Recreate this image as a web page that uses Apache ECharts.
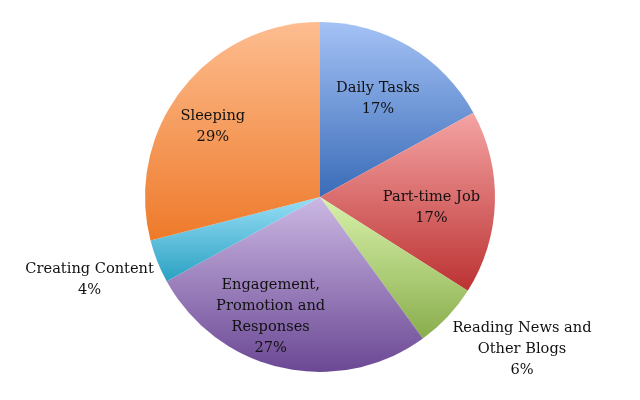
<!DOCTYPE html>
<html>
<head>
<meta charset="utf-8">
<script src="https://cdn.jsdelivr.net/npm/echarts@6/dist/echarts.min.js"></script>
<style>
html,body{margin:0;padding:0;background:#fff;}
#c{width:640px;height:400px;}
</style>
</head>
<body>
<div id="c"></div>
<script>
const categories = ['Daily Tasks', 'Part-time Job', 'Reading News and\nOther Blogs', 'Engagement,\nPromotion and\nResponses', 'Creating Content', 'Sleeping'];
const values = [17, 17, 6, 27, 4, 29];
const labelOutside = [false, false, true, false, true, false];
const colorTop = ['#a4c2f5', '#f5a4a4', '#d8f2ab', '#cbb8e3', '#98def6', '#fdbd90'];
const colorBottom = ['#3a6bb8', '#bc3232', '#89ad4c', '#6b4894', '#2aa1c2', '#ee7a2a'];

const chart = echarts.init(document.getElementById('c'), null, {renderer: 'canvas'});
const center = [320, 197];
const font = {fontFamily: 'DejaVu Serif', fontSize: 14.6, color: '#111111', lineHeight: 21, align: 'center'};
// small label nudges to follow the reference's label placement
const nudge = [[-6, 10], [-14, 7], [19, -20], [-22, -3], [3, -10], [-8, 7]];

const mainData = categories.map((n, i) => ({
  name: n, value: values[i],
  itemStyle: {color: new echarts.graphic.LinearGradient(0, 0, 0, 1, [
    {offset: 0, color: colorTop[i]}, {offset: 1, color: colorBottom[i]}])}
}));
function overlayData(showOutside) {
  return categories.map((n, i) => ({
    name: n, value: values[i],
    label: {show: labelOutside[i] === showOutside}
  }));
}
const overlayCommon = {
  type: 'pie', center: center, startAngle: 90, clockwise: true, silent: true,
  itemStyle: {color: 'rgba(0,0,0,0)', borderWidth: 0},
  emphasis: {disabled: true},
  labelLine: {show: false},
  label: Object.assign({position: 'inside', formatter: p => p.name + '\n' + p.value + '%'}, font),
  labelLayout: p => ({dx: nudge[p.dataIndex][0], dy: nudge[p.dataIndex][1]})
};
chart.setOption({
  animation: false,
  backgroundColor: '#ffffff',
  series: [
    {
      type: 'pie', center: center, radius: [0, 175], startAngle: 90, clockwise: true,
      data: mainData, label: {show: false}, labelLine: {show: false},
      itemStyle: {borderWidth: 0},
      emphasis: {disabled: true}
    },
    Object.assign({}, overlayCommon, {radius: [0, 245], data: overlayData(false)}),
    Object.assign({}, overlayCommon, {radius: [0, 496], data: overlayData(true)})
  ]
});
</script>
</body>
</html>
